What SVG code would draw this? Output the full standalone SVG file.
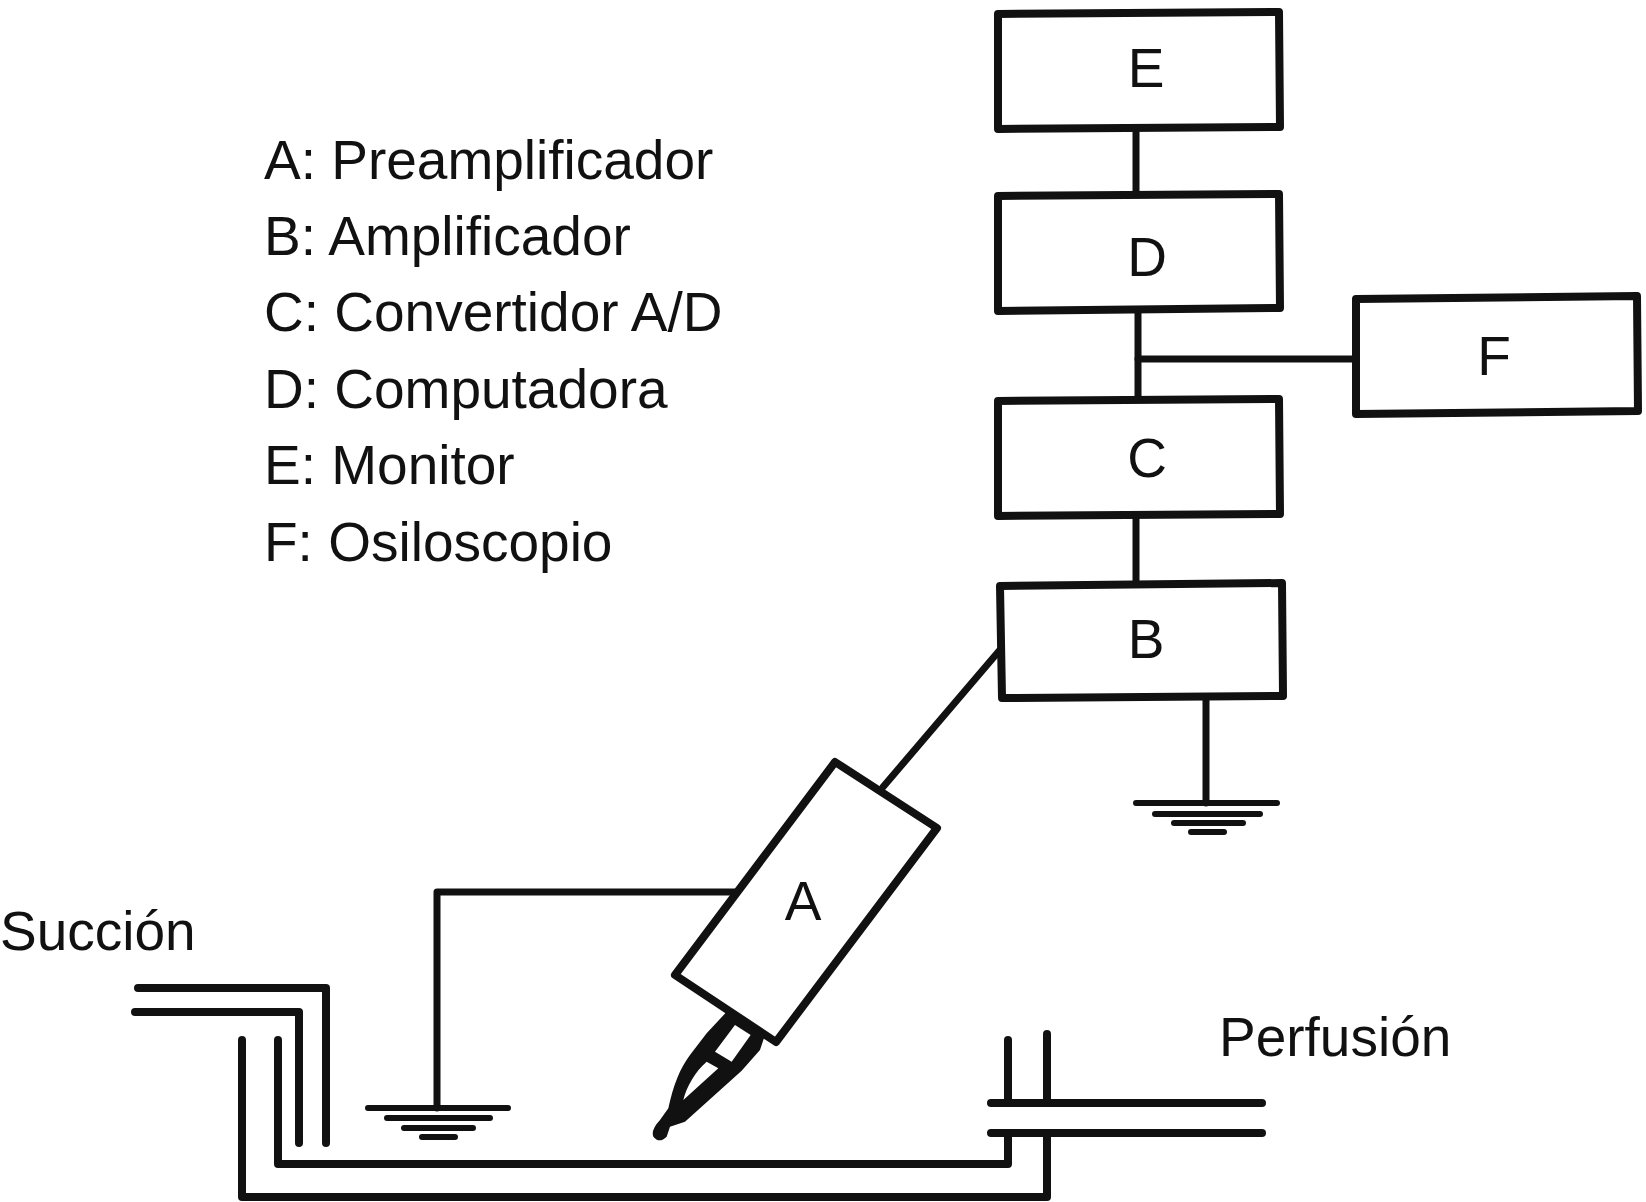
<svg xmlns="http://www.w3.org/2000/svg" width="1646" height="1202" viewBox="0 0 1646 1202">
<style>
text{font-family:"Liberation Sans",Arial,sans-serif;font-size:55px;fill:#111}
.c{text-anchor:middle}
.b{fill:#fff;stroke:#111;stroke-width:8;stroke-linejoin:round}
.l{fill:none;stroke:#111;stroke-width:7;stroke-linecap:round;stroke-linejoin:round}
.t{fill:none;stroke:#111;stroke-width:8;stroke-linecap:round;stroke-linejoin:round}
.g{fill:none;stroke:#111;stroke-width:6;stroke-linecap:round}
</style>
<rect width="1646" height="1202" fill="#fff"/>
<g id="connectors">
<path class="l" d="M1136 128V193"/>
<path class="l" d="M1138 310V400"/>
<path class="l" d="M1138 359H1356"/>
<path class="l" d="M1136 515V584"/>
<path class="l" d="M999 651L883 787"/>
<path class="l" d="M1206 698V803"/>
<path class="l" d="M735 892H437V1108"/>
</g>
<g id="node-E"><path class="b" d="M998 14L1279 12L1280 127L998 129Z"/><text class="c" x="1146" y="87">E</text></g>
<g id="node-D"><path class="b" d="M998 196L1279 194L1280 308L998 311Z"/><text class="c" x="1147" y="276">D</text></g>
<g id="node-C"><path class="b" d="M998 401L1279 399L1280 514L998 516Z"/><text class="c" x="1147" y="477">C</text></g>
<g id="node-B"><path class="b" d="M1000 586L1282 583L1283 696L1002 698Z"/><text class="c" x="1146" y="658">B</text></g>
<g id="node-F"><path class="b" d="M1356 299L1637 296L1638 411L1356 414Z"/><text class="c" x="1494" y="375">F</text></g>
<g id="node-A"><path class="b" d="M835 762L937 828L776 1042L675 975Z"/><text class="c" x="803" y="920">A</text>
<g id="probe" transform="translate(620 740) scale(.3333)"><path fill="#111" fill-rule="evenodd" d="M325 810L435 885L420 930L365 992L195 1145L150 1160L140 1190Q118 1212 100 1190Q92 1170 120 1140L145 1105C160 1035 180 985 210 945L260 880ZM345 855L392 885L335 965L285 935ZM260 965L295 985L190 1080C200 1040 225 995 260 965Z"/></g></g>
<g id="ground-left"><path class="g" d="M368 1108H508M387 1118H490M404 1128H473M422 1137H455"/></g>
<g id="ground-right"><path class="g" d="M1136 803H1277M1155 814H1260M1174 823H1243M1191 832H1224"/></g>
<g id="suction-tube"><path class="t" d="M138 988H326V1143"/><path class="t" d="M135 1012H299V1143"/></g>
<g id="chamber"><path class="t" d="M242 1040V1197H1047V1133"/><path class="t" d="M278 1040V1164H1008V1133"/></g>
<g id="perfusion-tube"><path class="t" d="M1008 1040V1103"/><path class="t" d="M1047 1034V1103"/><path class="t" d="M991 1103H1262"/><path class="t" d="M991 1133H1262"/></g>
<g id="legend">
<text x="264" y="179">A: Preamplificador</text>
<text x="264" y="255">B: Amplificador</text>
<text x="264" y="331">C: Convertidor A/D</text>
<text x="264" y="408">D: Computadora</text>
<text x="264" y="484">E: Monitor</text>
<text x="264" y="561">F: Osiloscopio</text>
</g>
<text x="0" y="950">Succión</text>
<text x="1219" y="1056">Perfusión</text>
</svg>
